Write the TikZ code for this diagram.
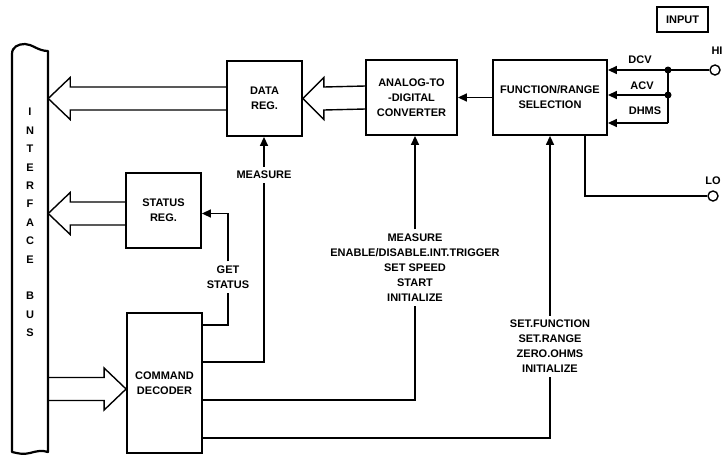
\documentclass[tikz,border=0pt]{standalone}
\usepackage{fontspec}
\setmainfont{Liberation Sans}
\usetikzlibrary{arrows.meta,calc}
\newcommand\lbl{\fontsize{11}{15}\selectfont\bfseries}
\tikzset{
  box/.style={draw,line width=1.8pt,align=center,inner sep=0pt,font=\lbl},
  conn/.style={line width=1.4pt},
  arr/.style={-{Triangle[length=9pt,width=8pt]}},
  hollow/.style={line width=1.4pt,line join=miter},
  lab/.style={align=center,font=\lbl,inner xsep=2pt,inner ysep=4pt},
  term/.style={circle,draw,line width=1.4pt,minimum size=10pt,inner sep=0pt,fill=white},
  busline/.style={line width=2.2pt,line join=round}
}
% #1 start (shaft centre), #2 tip, #3 signed head length
\newcommand\hollowarrow[3]{%
  \draw[hollow] ($#1+(0,-11.5)$) -- ($#2+(#3,-11.5)$) -- ($#2+(#3,-21)$) -- #2
    -- ($#2+(#3,21)$) -- ($#2+(#3,11.5)$) -- ($#1+(0,11.5)$);}
\begin{document}
\begin{tikzpicture}[x=1pt,y=-1pt]
\useasboundingbox (0,0) rectangle (727,456);
% interface bus
\node[minimum width=36pt,minimum height=400pt,inner sep=0pt] (bus) at (30,251) {};
\draw[busline] (12,54) .. controls (12,47) and (18,44) .. (25,44)
  .. controls (32,44) and (38,51) .. (48,51) -- (48,452)
  .. controls (42,450) and (37,451) .. (30,453)
  .. controls (23,455) and (17,453) .. (12,452) -- cycle;
\node[font=\fontsize{11}{18.4}\selectfont\bfseries,align=center,inner sep=0pt] (bustext) at (30,222.5)
  {I\\N\\T\\E\\R\\F\\A\\C\\E\\[18.4pt]B\\U\\S};
% blocks
\node[box,minimum width=75pt,minimum height=75pt] (datareg) at (264.5,98.5) {DATA\\REG.};
\node[box,minimum width=91pt,minimum height=75pt] (adc) at (411.5,97.5) {ANALOG-TO\\-DIGITAL\\CONVERTER};
\node[box,minimum width=114pt,minimum height=75pt] (fr) at (550,97.5) {FUNCTION/RANGE\\SELECTION};
\node[box,minimum width=75pt,minimum height=75pt] (status) at (163.5,210.5) {STATUS\\REG.};
\node[box,minimum width=75pt,minimum height=140pt] (decoder) at (164.5,383) {COMMAND\\DECODER};
\node[draw,line width=1.2pt,minimum width=51pt,minimum height=25pt,inner sep=0pt,font=\lbl] (input) at (682.5,19.5) {INPUT};
% hollow bus arrows
\hollowarrow{(datareg.west)}{(bus.east |- datareg.west)}{22}
\hollowarrow{(adc.west)}{(datareg.east)}{21}
\hollowarrow{($(status.west)+(0,3)$)}{($(bus.east |- status.west)+(0,3)$)}{22}
\hollowarrow{($(bus.east |- decoder.west)+(0,6)$)}{($(decoder.west)+(0,6)$)}{-22}
% inputs
\node[term] (hi) at (715,70) {};
\node[term] (lo) at (713,196) {};
\node[lab,inner sep=0pt] (hil) at (717,51) {HI};
\node[lab,inner sep=0pt] (lol) at (713,181) {LO};
\coordinate (j1) at (668,70);
\coordinate (j2) at (668,95);
\coordinate (j3) at (668,123);
\draw[conn,arr] (hi.west) -- (fr.east |- hi);
\draw[conn,arr] (j2) -- (fr.east |- j2);
\draw[conn] (j1) -- (j3);
\draw[conn,arr] (j3) -- (fr.east |- j3);
\fill (j1) circle (3.5pt);
\fill (j2) circle (3.5pt);
\node[lab,inner sep=0pt] (dcv) at (640,60) {DCV};
\node[lab,inner sep=0pt] (acv) at (642,86) {ACV};
\node[lab,inner sep=0pt] (ohms) at (645,111) {DHMS};
\draw[conn] ($(fr.south)+(35,0)$) |- (lo.west);
\draw[conn,arr] (fr.west) -- (adc.east);
% command lines
\coordinate (d1) at ($(decoder.east)+(0,-58)$);
\coordinate (d2) at ($(decoder.east)+(0,-21)$);
\coordinate (d3) at ($(decoder.east)+(0,17)$);
\coordinate (d4) at ($(decoder.east)+(0,55)$);
\node[lab] (gs) at (228,277) {GET\\STATUS};
\node[lab] (m1) at (264,175) {MEASURE};
\node[lab] (a1) at (415,267.5) {MEASURE\\ENABLE/DISABLE.INT.TRIGGER\\SET SPEED\\START\\INITIALIZE};
\node[lab] (f1) at (550,346.5) {SET.FUNCTION\\SET.RANGE\\ZERO.OHMS\\INITIALIZE};
\draw[conn] (d1) -| (gs.south);
\draw[conn,arr] (gs.north) |- ($(status.east)+(0,3)$);
\draw[conn] (d2) -| (m1.south);
\draw[conn,arr] (m1.north) -- (m1.north |- datareg.south);
\draw[conn] (d3) -| (a1.south);
\draw[conn,arr] (a1.north) -- (a1.north |- adc.south);
\draw[conn] (d4) -| (f1.south);
\draw[conn,arr] (f1.north) -- (f1.north |- fr.south);
\end{tikzpicture}
\end{document}
